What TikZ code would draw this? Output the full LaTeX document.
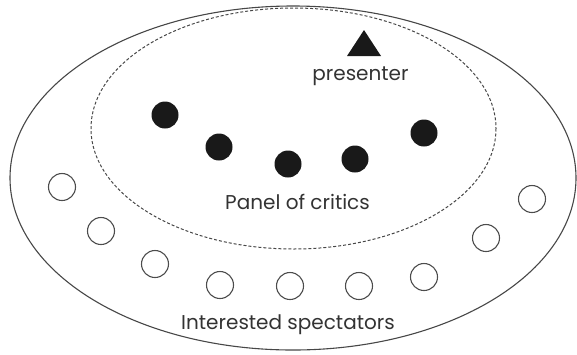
\documentclass[tikz,border=0pt]{standalone}
\usepackage{fontspec}
\setmainfont{Poppins}
\begin{document}
\begin{tikzpicture}[x=1pt,y=-1pt,
  lbl/.style={text=black!80, font=\fontsize{20}{23}\selectfont, inner sep=0pt, anchor=base},
  critic/.style={circle, fill=black!90, minimum size=27pt, inner sep=0pt},
  spect/.style={circle, draw=black!70, line width=1.1pt, minimum size=27pt, inner sep=0pt}]
\useasboundingbox (0,0) rectangle (577,354);
% outer ellipse
\draw[black!72, line width=1.1pt] (293,178) ellipse [x radius=283, y radius=172];
% dashed ellipse
\draw[black!72, line width=1pt, dash pattern=on 3pt off 2pt] (293.5,128.5) ellipse [x radius=202.5, y radius=120.5];
% presenter triangle
\fill[black!90] (364,30) -- (381,56) -- (347,56) -- cycle;
\node[lbl] (presenter) at (360.5,80) {presenter};
% critics
\node[critic] (c1) at (165,115) {};
\node[critic] (c2) at (219,147) {};
\node[critic] (c3) at (288,164) {};
\node[critic] (c4) at (355,159) {};
\node[critic] (c5) at (424,133) {};
\node[lbl] (panel) at (297.5,209) {Panel of critics};
% spectators
\node[spect] (s1) at (62,187) {};
\node[spect] (s2) at (101,231) {};
\node[spect] (s3) at (155,264) {};
\node[spect] (s4) at (220,285) {};
\node[spect] (s5) at (290,286) {};
\node[spect] (s6) at (359,286) {};
\node[spect] (s7) at (424,277) {};
\node[spect] (s8) at (486,238) {};
\node[spect] (s9) at (532,199) {};
\node[lbl] (spectators) at (288,329) {Interested spectators};
\end{tikzpicture}
\end{document}
